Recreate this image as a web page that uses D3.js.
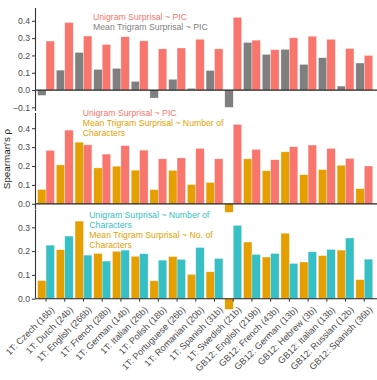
<!DOCTYPE html>
<html>
<head>
<meta charset="utf-8">
<script src="https://cdn.jsdelivr.net/npm/d3@7"></script>
<style>
  body { margin: 0; background: #fff; }
  svg { display: block; font-family: "Liberation Sans", Arial, sans-serif; }
</style>
</head>
<body>
<svg id="chart" width="377" height="380"></svg>
<script>
// categories (x axis)
var categories = ["1T: Czech (16b)", "1T: Dutch (24b)", "1T: English (266b)", "1T: French (28b)",
  "1T: German (14b)", "1T: Italian (26b)", "1T: Polish (18b)", "1T: Portuguese (26b)",
  "1T: Romanian (20b)", "1T: Spanish (31b)", "1T: Swedish (21b)", "GB12: English (219b)",
  "GB12: French (43b)", "GB12: German (13b)", "GB12: Hebrew (3b)", "GB12: Italian (13b)",
  "GB12: Russian (12b)", "GB12: Spanish (36b)"];

// series values (Spearman's rho)
var unigramPIC   = [0.283, 0.390, 0.312, 0.263, 0.308, 0.284, 0.238, 0.243, 0.293, 0.238, 0.420, 0.288, 0.233, 0.302, 0.311, 0.293, 0.240, 0.200];
var trigramPIC   = [-0.031, 0.115, 0.217, 0.119, 0.125, 0.050, -0.046, 0.062, 0.010, 0.113, -0.100, 0.275, 0.206, 0.235, 0.148, 0.187, 0.023, 0.156];
var trigramChars = [0.076, 0.206, 0.326, 0.190, 0.199, 0.178, 0.075, 0.177, 0.102, 0.113, -0.045, 0.238, 0.175, 0.275, 0.154, 0.181, 0.204, 0.080];
var unigramChars = [0.225, 0.263, 0.183, 0.158, 0.204, 0.189, 0.162, 0.165, 0.215, 0.169, 0.308, 0.186, 0.190, 0.148, 0.197, 0.207, 0.255, 0.166];

// tick values per panel
var ticks1 = [-0.1, 0, 0.1, 0.2, 0.3, 0.4];
var ticks2 = [0, 0.1, 0.2, 0.3, 0.4];
var ticks3 = [0, 0.1, 0.2, 0.3];

var red = "#F8766D", grey = "#7F7F7F", orange = "#E69F00", teal = "#36BFC5";
var fontFam = "Liberation Sans, Arial, sans-serif";

var panels = [
  {top: 8, bottom: 111, domain: [-0.121, 0.474], ticks: ticks1,
   left: trigramPIC, right: unigramPIC, lc: grey, rc: red,
   legend: {x: 93, y: 19.8, lines: [["Unigram Surprisal ~ PIC", red], ["Mean Trigram Surprisal ~ PIC", grey]]}},
  {top: 113, bottom: 209.5, domain: [-0.03, 0.4805], ticks: ticks2,
   left: trigramChars, right: unigramPIC, lc: orange, rc: red,
   legend: {x: 82.7, y: 116.4, lines: [["Unigram Surprisal ~ PIC", red], ["Mean Trigram Surprisal ~ Number of", orange], ["Characters", orange]]}},
  {top: 210, bottom: 310, domain: [-0.0475, 0.3727], ticks: ticks3, xaxis: true,
   left: trigramChars, right: unigramChars, lc: orange, rc: teal,
   legend: {x: 89.3, y: 217.8, lines: [["Unigram Surprisal ~ Number of", teal], ["Characters", teal], ["Mean Trigram Surprisal ~ No. of", orange], ["Characters", orange]]}}
];

var svg = d3.select("#chart");
var axisX = 35.5, rightX = 377;

var x = d3.scaleBand().domain(categories).range([axisX - 0.7, 375.5]).paddingInner(0).paddingOuter(0.1);
var bw = x.step() * 0.45;

panels.forEach(function(p) {
  var y = d3.scaleLinear().domain(p.domain).range([p.bottom, p.top]);
  var g = svg.append("g");

  // legend text (drawn under bars)
  p.legend.lines.forEach(function(l, i) {
    g.append("text").attr("x", p.legend.x).attr("y", p.legend.y + i * 9.9)
      .style("font-size", "8.7px").style("fill", l[1]).text(l[0]);
  });

  function bars(vals, col, offset) {
    g.selectAll(null).data(vals).enter().append("rect")
      .attr("x", function(d, i) { return x(categories[i]) + x.bandwidth() / 2 + offset; })
      .attr("width", bw)
      .attr("y", function(d) { return y(Math.max(0, d)); })
      .attr("height", function(d) { return Math.abs(y(d) - y(0)); })
      .style("fill", col)
      .style("stroke", "#fff").style("stroke-width", 0.5).style("stroke-opacity", 0.6);
  }
  bars(p.left, p.lc, -bw);
  bars(p.right, p.rc, 0);

  // zero line
  g.append("line").attr("x1", axisX).attr("x2", rightX).attr("y1", y(0)).attr("y2", y(0))
    .style("stroke", "#222").style("stroke-width", p.xaxis ? 1.1 : 1.3);

  // y axis
  var ya = g.append("g").attr("transform", "translate(" + axisX + ",0)")
    .call(d3.axisLeft(y).tickValues(p.ticks).tickFormat(d3.format(".1f")).tickSize(3.5).tickPadding(2));
  ya.select(".domain").attr("d", "M0," + p.top + "V" + (p.xaxis ? y(0) : p.bottom))
    .style("stroke", "#333").style("stroke-width", 1.1);
  ya.selectAll(".tick line").style("stroke", "#333");
  ya.selectAll(".tick text").style("font-size", "8.7px").style("fill", "#4d4d4d")
    .style("font-family", fontFam);

  if (p.xaxis) {
    var xa = g.append("g").attr("transform", "translate(0," + y(0) + ")")
      .call(d3.axisBottom(x).tickSize(3).tickPadding(2));
    xa.select(".domain").remove();
    xa.selectAll(".tick line").style("stroke", "#333");
    xa.selectAll(".tick text")
      .style("font-size", "9.1px").style("fill", "#4d4d4d")
      .style("font-family", fontFam)
      .style("text-anchor", "end")
      .attr("dy", "0.35em")
      .attr("transform", "translate(3,6) rotate(-45)");
  }
});

// y axis title, centred on the whole plot height
svg.append("text")
  .attr("transform", "translate(9.5,159) rotate(-90)")
  .style("text-anchor", "middle").style("font-size", "9.8px").style("fill", "#222")
  .text("Spearman's \u03c1");
</script>
</body>
</html>
